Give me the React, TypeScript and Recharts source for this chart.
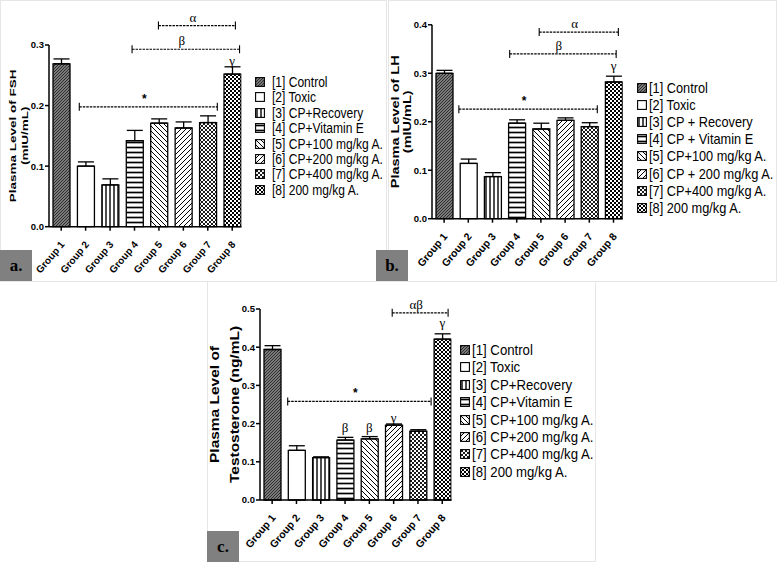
import React from 'react';
import { BarChart, Bar, XAxis, YAxis, Cell, ErrorBar, ReferenceLine, ReferenceDot } from 'recharts';

const groups = ['Group 1', 'Group 2', 'Group 3', 'Group 4', 'Group 5', 'Group 6', 'Group 7', 'Group 8'];
const groupIdx = [1, 2, 3, 4, 5, 6, 7, 8];

const legendAC = ['[1] Control', '[2] Toxic', '[3] CP+Recovery', '[4] CP+Vitamin E', '[5] CP+100 mg/kg A.', '[6] CP+200 mg/kg A.', '[7] CP+400 mg/kg A.', '[8] 200 mg/kg A.'];
const legendB = ['[1] Control', '[2] Toxic', '[3] CP + Recovery', '[4] CP + Vitamin E', '[5] CP+100 mg/kg A.', '[6] CP + 200 mg/kg A.', '[7] CP+400 mg/kg A.', '[8] 200 mg/kg A.'];

// FSH (mIU/mL)
const fshMean = [0.269, 0.1, 0.069, 0.142, 0.171, 0.163, 0.172, 0.252];
const fshSem = [0.008, 0.007, 0.01, 0.017, 0.007, 0.01, 0.011, 0.012];
const fshTicks = [0, 0.1, 0.2, 0.3];
// LH (mIU/mL)
const lhMean = [0.3, 0.114, 0.087, 0.197, 0.185, 0.203, 0.19, 0.282];
const lhSem = [0.006, 0.009, 0.008, 0.007, 0.012, 0.005, 0.008, 0.012];
const lhTicks = [0, 0.1, 0.2, 0.3, 0.4];
// Testosterone (ng/mL)
const tMean = [0.394, 0.13, 0.111, 0.157, 0.16, 0.196, 0.18, 0.421];
const tSem = [0.01, 0.012, 0.002, 0.007, 0.006, 0.003, 0.004, 0.014];
const tTicks = [0, 0.1, 0.2, 0.3, 0.4, 0.5];

// significance brackets: group positions (1..8) and value level
const fshBrackets = [
  { from: 4.98, to: 8.13, y: 0.332, text: 'α' },
  { from: 3.9, to: 8.3, y: 0.293, text: 'β' },
  { from: 1.74, to: 7.39, y: 0.198, text: '*' },
];
const fshMarks = [{ x: 8, y: 0.275, text: 'γ' }];
const lhBrackets = [
  { from: 4.93, to: 8.2, y: 0.385, text: 'α' },
  { from: 3.71, to: 8.11, y: 0.34, text: 'β' },
  { from: 1.61, to: 7.33, y: 0.226, text: '*' },
];
const lhMarks = [{ x: 8, y: 0.317, text: 'γ' }];
const tBrackets = [
  { from: 5.94, to: 8.24, y: 0.49, text: 'αβ' },
  { from: 1.64, to: 7.54, y: 0.258, text: '*' },
];
const tMarks = [
  { x: 4, y: 0.191, text: 'β' },
  { x: 5, y: 0.191, text: 'β' },
  { x: 6, y: 0.217, text: 'γ' },
  { x: 8, y: 0.465, text: 'γ' },
];

const SANS = '"Liberation Sans", Arial, sans-serif';
const SERIF = '"Liberation Serif", "Times New Roman", serif';

const Patterns = ({ p }: { p: string }) => (
  <defs>
    <pattern id={`${p}-1`} width="3" height="3" patternUnits="userSpaceOnUse">
      <rect width="3" height="3" fill="#7a7a7a" />
      <path d="M0,3 L3,0 M-1,1 L1,-1 M2,4 L4,2" stroke="#262626" strokeWidth="0.9" />
    </pattern>
    <pattern id={`${p}-2`} width="4" height="4" patternUnits="userSpaceOnUse">
      <rect width="4" height="4" fill="#fff" />
    </pattern>
    <pattern id={`${p}-3`} width="4" height="4" patternUnits="userSpaceOnUse">
      <rect width="4" height="4" fill="#fff" />
      <line x1="2" y1="0" x2="2" y2="4" stroke="#000" strokeWidth="1.4" />
    </pattern>
    <pattern id={`${p}-4`} width="4" height="5" patternUnits="userSpaceOnUse">
      <rect width="4" height="5" fill="#fff" />
      <line x1="0" y1="2.5" x2="4" y2="2.5" stroke="#000" strokeWidth="1.7" />
    </pattern>
    <pattern id={`${p}-5`} width="5" height="5" patternUnits="userSpaceOnUse">
      <rect width="5" height="5" fill="#fff" />
      <path d="M0,0 L5,5 M-1,4 L1,6 M4,-1 L6,1" stroke="#000" strokeWidth="1" />
    </pattern>
    <pattern id={`${p}-6`} width="5" height="5" patternUnits="userSpaceOnUse">
      <rect width="5" height="5" fill="#fff" />
      <path d="M0,5 L5,0 M-1,1 L1,-1 M4,6 L6,4" stroke="#000" strokeWidth="1" />
    </pattern>
    <pattern id={`${p}-7`} width="4" height="4" patternUnits="userSpaceOnUse">
      <rect width="4" height="4" fill="#fff" />
      <path d="M0,0 L4,4 M0,4 L4,0" stroke="#000" strokeWidth="0.9" />
    </pattern>
    <pattern id={`${p}-8`} width="4" height="4" patternUnits="userSpaceOnUse">
      <rect width="4" height="4" fill="#fff" />
      <rect x="0" y="0" width="2" height="2" fill="#000" />
      <rect x="2" y="2" width="2" height="2" fill="#000" />
    </pattern>
  </defs>
);

const bracketShape = (text: string) => (props: any) => {
  const { x1, y1, x2 } = props;
  const serif = text !== '*';
  return (
    <g>
      <line x1={x1} y1={y1} x2={x2} y2={y1} stroke="#000" strokeWidth={1.2} strokeDasharray="2.5 1" />
      <line x1={x1} y1={y1 - 4} x2={x1} y2={y1 + 4} stroke="#000" strokeWidth={1.1} />
      <line x1={x2} y1={y1 - 4} x2={x2} y2={y1 + 4} stroke="#000" strokeWidth={1.1} />
      <text
        x={(x1 + x2) / 2 - 4}
        y={y1 - 4}
        textAnchor="middle"
        fontSize={serif ? 13 : 12}
        fontWeight={serif ? 'normal' : 'bold'}
        fontFamily={serif ? SERIF : SANS}
        fill="#000"
      >
        {text}
      </text>
    </g>
  );
};

const markShape = (text: string) => (props: any) => (
  <text x={props.cx} y={props.cy} textAnchor="middle" dominantBaseline="central" fontSize={13} fontFamily={SERIF} fill="#000">
    {text}
  </text>
);

const GroupTick = (props: any) => {
  const { x, y, payload, size } = props;
  const ax = x + 4;
  const ay = y + 12;
  return (
    <text x={ax} y={ay} transform={`rotate(-50 ${ax} ${ay})`} textAnchor="end" fontSize={size} fontWeight="bold" fontFamily={SANS} fill="#000">
      {groups[payload.value - 1]}
    </text>
  );
};

const YTitle = (props: any) => {
  const { viewBox, lines, offs, size, squeeze } = props;
  const px = viewBox.x + viewBox.width;
  const cy = viewBox.y + viewBox.height / 2;
  return (
    <g>
      {lines.map((l: string, i: number) => (
        <text
          key={i}
          transform={`translate(${px + offs[i]},${cy}) rotate(-90) scale(1,${squeeze})`}
          textAnchor="middle"
          dominantBaseline="central"
          fontWeight="bold"
          fontSize={size}
          fontFamily={SANS}
          fill="#000"
        >
          {l}
        </text>
      ))}
    </g>
  );
};

type PanelProps = {
  id: string;
  left: number;
  top: number;
  width: number;
  height: number;
  margin: { top: number; right: number; bottom: number; left: number };
  mean: number[];
  sem: number[];
  ticks: number[];
  titles: string[];
  titleOffs: number[];
  titleSize: number;
  squeeze: number;
  brackets: { from: number; to: number; y: number; text: string }[];
  marks: { x: number; y: number; text: string }[];
  tickSize: number;
};

const Panel = (p: PanelProps) => {
  const data = groupIdx.map((g, i) => ({ idx: g, value: p.mean[i], err: [0, p.sem[i]] }));
  const yMax = p.ticks[p.ticks.length - 1];
  return (
    <div style={{ position: 'absolute', left: p.left, top: p.top }}>
      <BarChart width={p.width} height={p.height} data={data} margin={p.margin} barSize={17}>
        <Patterns p={p.id} />
        <XAxis
          type="number"
          dataKey="idx"
          domain={[0.5, 8.38]}
          ticks={groupIdx}
          interval={0}
          height={45}
          allowDataOverflow
          stroke="#000"
          strokeWidth={1.5}
          tickSize={4}
          tick={<GroupTick size={p.tickSize} />}
        />
        <YAxis
          type="number"
          domain={[0, yMax]}
          ticks={p.ticks}
          width={30}
          stroke="#000"
          strokeWidth={1.5}
          tickSize={4}
          tickMargin={1}
          tick={{ fontSize: 9.5, fontWeight: 'bold', fill: '#000', fontFamily: SANS }}
          tickFormatter={(v: number) => v.toFixed(1)}
          label={<YTitle lines={p.titles} offs={p.titleOffs} size={p.titleSize} squeeze={p.squeeze} />}
        />
        <Bar dataKey="value" stroke="#000" strokeWidth={1.3} isAnimationActive={false}>
          {data.map((d, i) => (
            <Cell key={d.idx} fill={`url(#${p.id}-${i + 1})`} />
          ))}
          <ErrorBar dataKey="err" width={8} stroke="#000" strokeWidth={1.3} isAnimationActive={false} />
        </Bar>
        {p.brackets.map((b, i) => (
          <ReferenceLine
            key={`b${i}`}
            segment={[{ x: b.from, y: b.y }, { x: b.to, y: b.y }]}
            ifOverflow="visible"
            shape={bracketShape(b.text)}
          />
        ))}
        {p.marks.map((m, i) => (
          <ReferenceDot key={`m${i}`} x={m.x} y={m.y} r={3} ifOverflow="visible" shape={markShape(m.text)} />
        ))}
      </BarChart>
    </div>
  );
};

type LegendProps = { id: string; labels: string[]; swatchLeft: number; textLeft: number; firstY: number; step: number; size: number; sx: number };

const PatternLegend = (l: LegendProps) => (
  <>
    {l.labels.map((lab, i) => (
      <div
        key={lab}
        style={{ position: 'absolute', left: l.swatchLeft, top: l.firstY + i * l.step - 10, height: 20, display: 'flex', alignItems: 'center' }}
      >
        <svg width={10} height={10} style={{ display: 'block' }}>
          <rect x={0.6} y={0.6} width={8.8} height={8.8} fill={`url(#${l.id}-${i + 1})`} stroke="#000" strokeWidth={1.1} />
        </svg>
        <span
          style={{
            position: 'absolute',
            left: l.textLeft - l.swatchLeft,
            fontFamily: SANS,
            fontSize: l.size,
            color: '#000',
            whiteSpace: 'nowrap',
            lineHeight: '20px',
            display: 'inline-block',
            transform: `scaleX(${l.sx})`,
            transformOrigin: 'left center',
          }}
        >
          {lab}
        </span>
      </div>
    ))}
  </>
);

const Tag = ({ left, top, text }: { left: number; top: number; text: string }) => (
  <div
    style={{
      position: 'absolute',
      left,
      top,
      width: 32,
      height: 31,
      background: '#808080',
      fontFamily: SERIF,
      fontWeight: 'bold',
      fontSize: 17,
      lineHeight: '31px',
      textAlign: 'center',
      color: '#000',
    }}
  >
    {text}
  </div>
);

const Frame = ({ left, top, width, height }: { left: number; top: number; width: number; height: number }) => (
  <div style={{ position: 'absolute', left, top, width, height, border: '1px solid #e6e6e6', boxSizing: 'border-box' }} />
);

export default function App() {
  return (
    <div style={{ position: 'absolute', left: 0, top: 0, width: 777, height: 562, background: '#fff', overflow: 'hidden' }}>
      <Frame left={0} top={0} width={387} height={282} />
      <Frame left={388} top={0} width={389} height={282} />
      <Frame left={207} top={281} width={389} height={281} />

      <Panel
        id="pa"
        left={0}
        top={0}
        width={386}
        height={282}
        margin={{ top: 45, right: 144.5, bottom: 10.3, left: 19 }}
        mean={fshMean}
        sem={fshSem}
        ticks={fshTicks}
        titles={['Plasma Level of FSH', '(mIU/mL)']}
        titleOffs={[-37, -25]}
        titleSize={13.5}
        squeeze={0.72}
        brackets={fshBrackets}
        marks={fshMarks}
        tickSize={10}
      />
      <PatternLegend id="pa" labels={legendAC} swatchLeft={255} textLeft={272} firstY={82} step={15.4} size={14} sx={0.86} />

      <Panel
        id="pb"
        left={388}
        top={0}
        width={389}
        height={282}
        margin={{ top: 24.8, right: 154.3, bottom: 18.3, left: 14 }}
        mean={lhMean}
        sem={lhSem}
        ticks={lhTicks}
        titles={['Plasma Level of LH', '(mIU/mL)']}
        titleOffs={[-36, -24]}
        titleSize={14.5}
        squeeze={0.72}
        brackets={lhBrackets}
        marks={lhMarks}
        tickSize={10.5}
      />
      <PatternLegend id="pb" labels={legendB} swatchLeft={637} textLeft={649} firstY={88} step={17.1} size={14.5} sx={0.88} />

      <Panel
        id="pc"
        left={207}
        top={281}
        width={389}
        height={281}
        margin={{ top: 28, right: 144.5, bottom: 17, left: 23 }}
        mean={tMean}
        sem={tSem}
        ticks={tTicks}
        titles={['Plasma Level of', 'Testosterone (ng/mL)']}
        titleOffs={[-46, -26]}
        titleSize={15.5}
        squeeze={0.88}
        brackets={tBrackets}
        marks={tMarks}
        tickSize={10.5}
      />
      <PatternLegend id="pc" labels={legendAC} swatchLeft={460} textLeft={472} firstY={350} step={17.4} size={15} sx={0.88} />

      <Tag left={0} top={250} text="a." />
      <Tag left={376} top={250} text="b." />
      <Tag left={207} top={531} text="c." />
    </div>
  );
}
